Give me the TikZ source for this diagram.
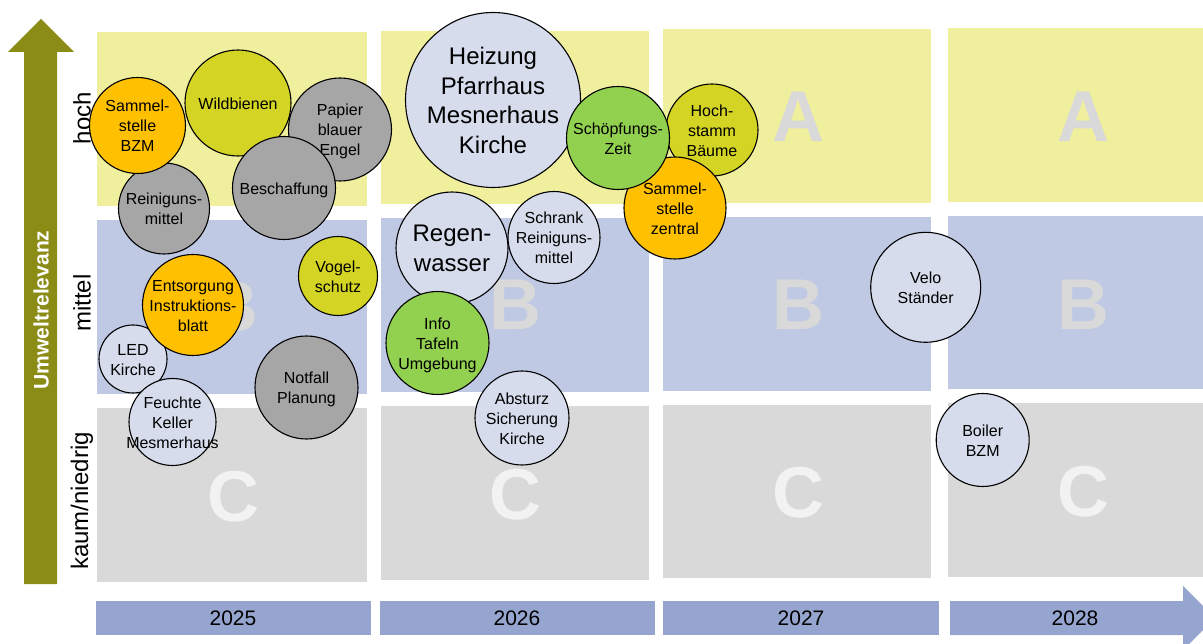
\documentclass[tikz,border=0pt]{standalone}
\usepackage{fontspec}
\setmainfont{Liberation Sans}
\definecolor{zoneA}{HTML}{F0EF9E}
\definecolor{zoneB}{HTML}{BFC9E3}
\definecolor{zoneC}{HTML}{D9D9D9}
\definecolor{letterAB}{HTML}{D9D9D9}
\definecolor{letterC}{HTML}{F2F2F2}
\definecolor{barblue}{HTML}{96A5D0}
\definecolor{olivearrow}{HTML}{8A8C16}
\definecolor{cOrange}{HTML}{FFC000}
\definecolor{cLime}{HTML}{D4D424}
\definecolor{cGray}{HTML}{A6A6A6}
\definecolor{cLight}{HTML}{D6DCEC}
\definecolor{cGreen}{HTML}{92D050}
\newcommand{\bubbletext}[2][5pt]{\makebox[0pt]{\raisebox{0pt}[\dimexpr\height+#1\relax][\depth]{\begin{tabular}{@{}c@{}}#2\end{tabular}}}}
\tikzset{
  bubble/.style={circle, draw=black, line width=1.1pt, inner sep=0pt,
    font=\fontsize{16}{20}\selectfont, text=black},
  bigbubble/.style={bubble, font=\fontsize{24}{29.5}\selectfont},
  zoneletter/.style={font=\bfseries\fontsize{72}{72}\selectfont, inner sep=0pt},
  rowlabel/.style={rotate=90, font=\fontsize{24}{24}\selectfont, inner sep=0pt},
  yearlabel/.style={font=\fontsize{21}{21}\selectfont, inner sep=0pt},
}
\begin{document}
\begin{tikzpicture}[x=1pt,y=-1pt]
\useasboundingbox (0,0) rectangle (1203,644);
\fill[white] (0,0) rectangle (1203,644);
% zones column 1
\fill[zoneA] (97,32) rectangle (367,206);
\fill[zoneB] (97,220) rectangle (367,394);
\fill[zoneC] (97,408) rectangle (367,582);
% column 2
\fill[zoneA] (381,31) rectangle (649,204);
\fill[zoneB] (381,218) rectangle (649,392);
\fill[zoneC] (381,406) rectangle (649,580);
% column 3
\fill[zoneA] (663,29) rectangle (931,203);
\fill[zoneB] (663,217) rectangle (931,391);
\fill[zoneC] (663,405) rectangle (931,578);
% column 4
\fill[zoneA] (948,28) rectangle (1203,202);
\fill[zoneB] (948,216) rectangle (1203,389);
\fill[zoneC] (948,403) rectangle (1203,577);
% letters
\node[zoneletter, text=letterAB] (b1) at (232,307) {B};
\node[zoneletter, text=letterC]  (c1) at (233,497) {C};
\node[zoneletter, text=letterAB] (b2) at (515,305) {B};
\node[zoneletter, text=letterC]  (c2) at (515,495) {C};
\node[zoneletter, text=letterAB] (a3) at (798,117) {A};
\node[zoneletter, text=letterAB] (b3) at (798,305) {B};
\node[zoneletter, text=letterC]  (c3) at (798,493) {C};
\node[zoneletter, text=letterAB] (a4) at (1083,117) {A};
\node[zoneletter, text=letterAB] (b4) at (1083,305) {B};
\node[zoneletter, text=letterC]  (c4) at (1083,492) {C};
% vertical arrow
\fill[olivearrow] (24,584) -- (24,52) -- (8,52) -- (41,19) -- (74,52) -- (57,52) -- (57,584) -- cycle;
\node[rotate=90, text=white, font=\bfseries\fontsize{21}{21}\selectfont, inner sep=0pt] (axis) at (41,310) {Umweltrelevanz};
% row labels
\node[rowlabel] (hoch) at (82,118) {hoch};
\node[rowlabel] (mittel) at (82,303) {mittel};
\node[rowlabel] (niedrig) at (82,501) {kaum/niedrig};
% timeline
\fill[barblue] (96,601) rectangle (371,635);
\fill[barblue] (380,601) rectangle (655,635);
\fill[barblue] (663,601) rectangle (939,635);
\fill[barblue] (950,601) -- (1183,601) -- (1183,586) -- (1215,618) -- (1183,650) -- (1183,635) -- (950,635) -- cycle;
\node[yearlabel] (y1) at (233,618) {2025};
\node[yearlabel] (y2) at (517,618) {2026};
\node[yearlabel] (y3) at (801,618) {2027};
\node[yearlabel] (y4) at (1075,618) {2028};
% bubbles
\node[bubble, fill=cGray, minimum size=91pt] (reinig) at (164,208.5) {\bubbletext{Reiniguns-\\mittel}};
\node[bubble, fill=cOrange, minimum size=96pt] (sammelbzm) at (137.5,125.5) {\bubbletext{Sammel-\\stelle\\BZM}};
\node[bubble, fill=cLime, minimum size=106pt] (wild) at (238,103) {\bubbletext{Wildbienen}};
\node[bubble, fill=cGray, minimum size=103pt] (papier) at (340,129.5) {\bubbletext{Papier\\blauer\\Engel}};
\node[bubble, fill=cGray, minimum size=103pt] (besch) at (284,188) {\bubbletext{Beschaffung}};
\node[bubble, fill=cLime, minimum size=79pt] (vogel) at (338,276) {\bubbletext{Vogel-\\schutz}};
\node[bubble, fill=cLight, minimum size=68pt] (led) at (133,359) {\bubbletext{LED\\Kirche}};
\node[bubble, fill=cOrange, minimum size=101pt] (entsorg) at (193,305) {\bubbletext{Entsorgung\\Instruktions-\\blatt}};
\node[bubble, fill=cLight, minimum size=87pt] (feucht) at (172.5,422) {\bubbletext{Feuchte\\Keller\\Mesmerhaus}};
\node[bubble, fill=cGray, minimum size=103pt] (notfall) at (306.5,387.5) {\bubbletext{Notfall\\Planung}};
\node[bigbubble, fill=cLight, minimum size=175pt] (heiz) at (493,100) {\bubbletext[6pt]{Heizung\\Pfarrhaus\\Mesnerhaus\\Kirche}};
\node[bubble, fill=cLime, minimum size=92pt] (hochstamm) at (712,130) {\bubbletext{Hoch-\\stamm\\Bäume}};
\node[bubble, fill=cOrange, minimum size=102pt] (sammelz) at (675,208) {\bubbletext{Sammel-\\stelle\\zentral}};
\node[bubble, fill=cGreen, minimum size=103pt] (schoepf) at (618,138) {\bubbletext{Schöpfungs-\\Zeit}};
\node[bigbubble, fill=cLight, minimum size=112pt, font=\fontsize{24}{30}\selectfont] (regen) at (452,248) {\bubbletext[6pt]{Regen-\\wasser}};
\node[bubble, fill=cLight, minimum size=92pt] (schrank) at (554,237.5) {\bubbletext{Schrank\\Reiniguns-\\mittel}};
\node[bubble, fill=cGreen, minimum size=103pt] (info) at (437.5,343) {\bubbletext{Info\\Tafeln\\Umgebung}};
\node[bubble, fill=cLight, minimum size=94pt] (absturz) at (522,418) {\bubbletext{Absturz\\Sicherung\\Kirche}};
\node[bubble, fill=cLight, minimum size=110pt] (velo) at (925.7,287.3) {\bubbletext{Velo\\Ständer}};
\node[bubble, fill=cLight, minimum size=93pt] (boiler) at (982.7,440) {\bubbletext{Boiler\\BZM}};
\end{tikzpicture}
\end{document}
